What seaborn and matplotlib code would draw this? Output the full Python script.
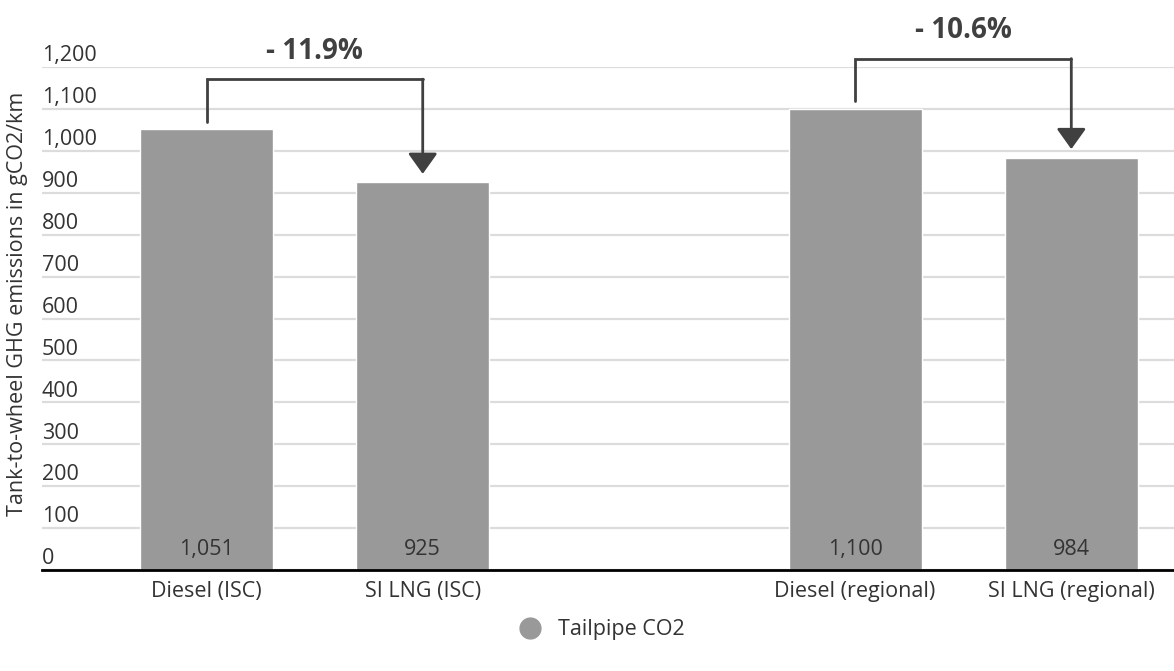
import matplotlib
matplotlib.use("Agg")
import matplotlib.pyplot as plt
import matplotlib.transforms as mtransforms
from matplotlib.lines import Line2D
import seaborn as sns
import pandas as pd

# data
categories = ["Diesel (ISC)", "SI LNG (ISC)", "Diesel (regional)", "SI LNG (regional)"]
emissions = [1051, 925, 1100, 984]
order = ["Diesel (ISC)", "SI LNG (ISC)", "", "Diesel (regional)", "SI LNG (regional)"]
y_ticks = list(range(0, 1300, 100))
comparisons = [("Diesel (ISC)", "SI LNG (ISC)", "- 11.9%"),
               ("Diesel (regional)", "SI LNG (regional)", "- 10.6%")]
series_name = "Tailpipe CO2"

bar_color = "#999999"
text_color = "#333333"
arrow_color = "#404040"
fs = 15.5

sns.set_style("white")
plt.rcParams["font.family"] = ["Open Sans", "DejaVu Sans"]

df = pd.DataFrame({"category": categories, "value": emissions})

fig = plt.figure(figsize=(11.74, 6.71), dpi=100)
ax = fig.add_axes([42 / 1174, 1 - 570 / 671, 1 - 42 / 1174, (570 - 67) / 671])

sns.barplot(data=df, x="category", y="value", order=order, color=bar_color,
            saturation=1, width=0.615, ax=ax)

ax.set_xlim(-0.761, 4.475)
ax.set_ylim(0, 1200)
ax.set_yticks(y_ticks)
ax.set_yticklabels([])
ax.yaxis.grid(True, color="#dcdcdc", linewidth=1.6)
ax.set_axisbelow(True)
ax.tick_params(axis="both", length=0)
ax.tick_params(axis="x", labelsize=fs, labelcolor=text_color, pad=8)
ax.set_xlabel("")
ax.set_ylabel("")
for side in ["top", "right", "left"]:
    ax.spines[side].set_visible(False)
ax.spines["bottom"].set_color("black")
ax.spines["bottom"].set_linewidth(2)

# y tick labels sit just above their gridlines, inside the plot area
trans = mtransforms.blended_transform_factory(ax.transAxes, ax.transData)
off = mtransforms.ScaledTranslation(0, 0.5 / 72, fig.dpi_scale_trans)
for t in y_ticks:
    ax.text(0.0, t, f"{t:,}", transform=trans + off, ha="left", va="bottom",
            fontsize=fs, color=text_color)

# value labels at the base of each bar
for cat, v in zip(categories, emissions):
    ax.text(order.index(cat), 48, f"{v:,}", ha="center", va="center",
            fontsize=fs, color=text_color)

# brackets with arrows showing the reduction
vals = dict(zip(categories, emissions))
for a, b, label in comparisons:
    xa, xb = order.index(a), order.index(b)
    top = vals[a] + 120
    ax.plot([xa, xa, xb], [vals[a] + 18, top, top], color=arrow_color,
            lw=2, solid_joinstyle="miter", clip_on=False)
    ax.annotate("", xy=(xb, vals[b] + 20), xytext=(xb, top),
                arrowprops=dict(arrowstyle="-|>,head_length=0.7,head_width=0.5",
                                color=arrow_color, lw=2, shrinkA=0, shrinkB=0,
                                mutation_scale=18),
                annotation_clip=False)
    ax.text((xa + xb) / 2, top + 67, label, ha="center", va="center",
            fontsize=20, fontweight="bold", color=arrow_color, clip_on=False)

fig.text(18 / 1174, 1 - 304 / 671, "Tank-to-wheel GHG emissions in gCO2/km",
         rotation=90, ha="center", va="center", fontsize=fs, color=text_color)

handle = Line2D([], [], marker="o", linestyle="", markersize=15,
                markerfacecolor=bar_color, markeredgecolor=bar_color)
fig.legend([handle], [series_name], loc="center", bbox_to_anchor=(0.508, 1 - 630 / 671),
           frameon=False, fontsize=fs, handletextpad=0.3, labelcolor=text_color)

fig.savefig("out.png", dpi=100)
